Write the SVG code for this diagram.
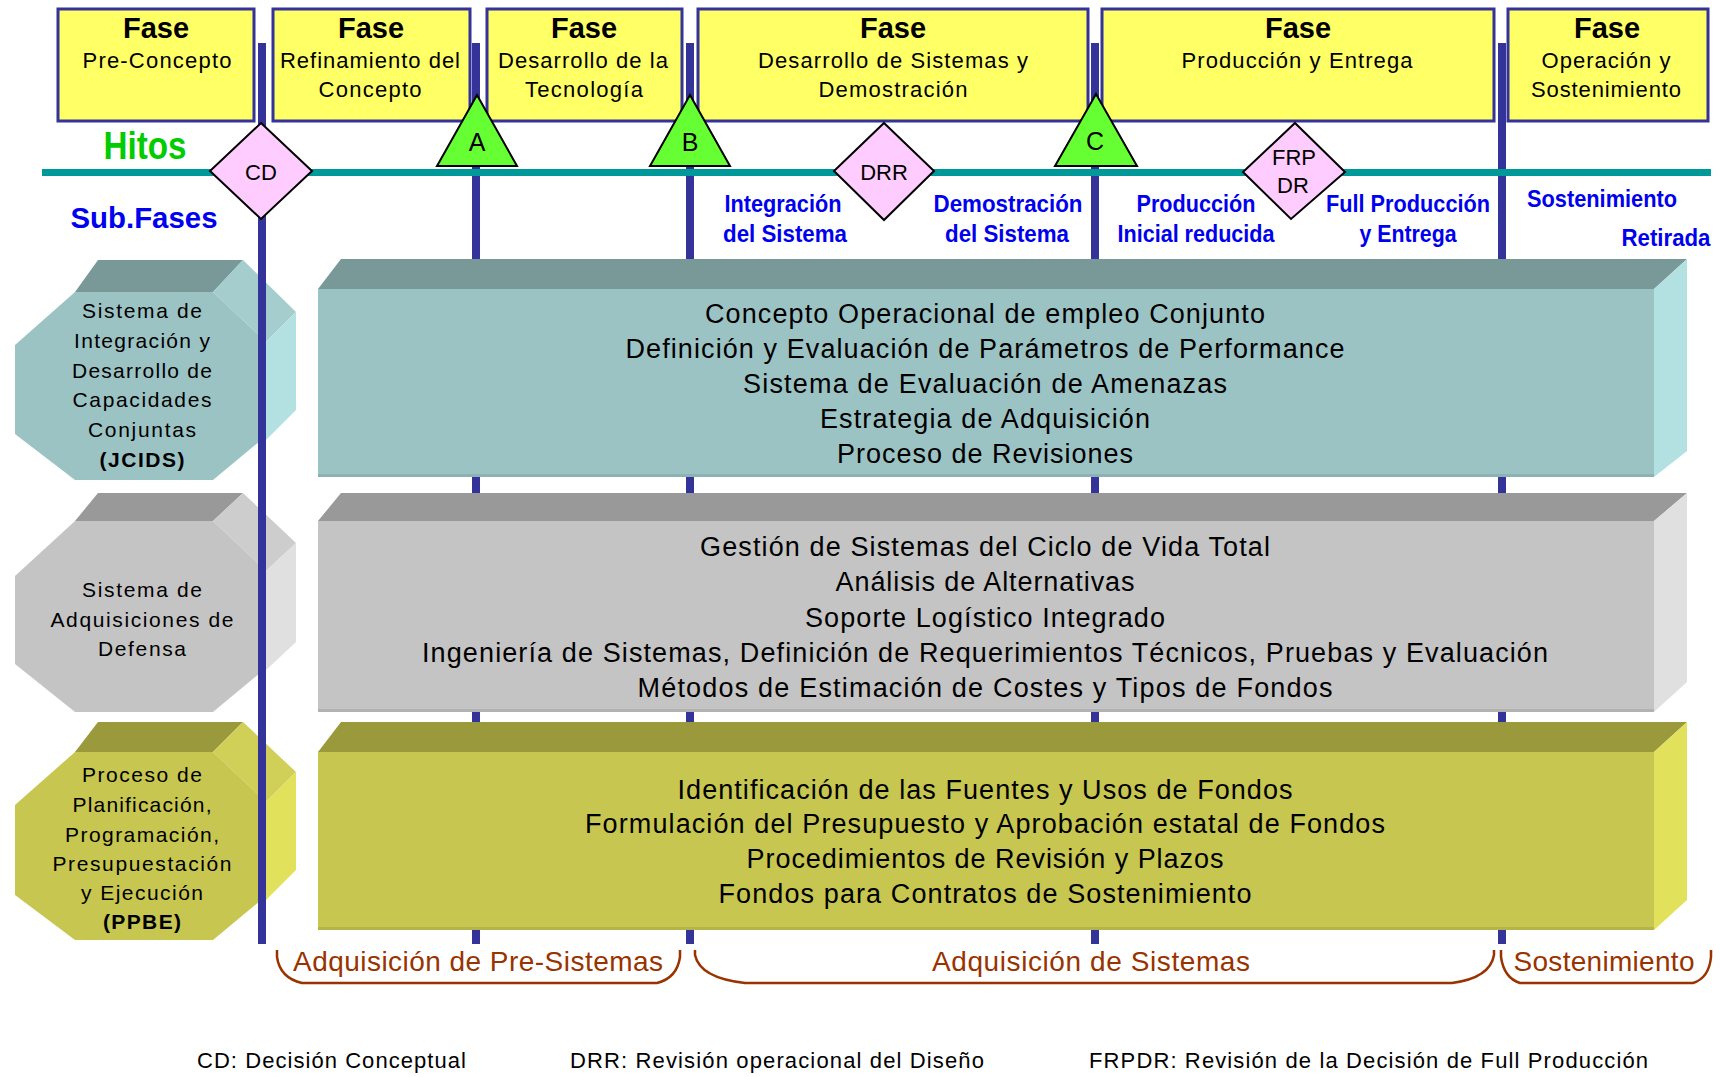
<svg xmlns="http://www.w3.org/2000/svg" width="1720" height="1077" viewBox="0 0 1720 1077">
  <defs>
    <style>
      text { font-family: "Liberation Sans", Arial, sans-serif; fill: #000; }
      .ph-box { fill: #FFFF66; stroke: #333399; stroke-width: 3; }
      .ph-title { font-size: 29px; font-weight: bold; text-anchor: middle; }
      .ph-sub { font-size: 22px; text-anchor: middle; }
      .vline { stroke: #333399; stroke-width: 8; }
      .axis { stroke: #009999; stroke-width: 7; }
      .tri { fill: #66FF33; stroke: #000; stroke-width: 2; stroke-linejoin: miter; }
      .dia { fill: #FFCCFF; stroke: #000; stroke-width: 2; }
      .ms { font-size: 22px; text-anchor: middle; }
      .ms-l { font-size: 25px; text-anchor: middle; }
      .row-hitos { font-size: 38px; font-weight: bold; fill: #00CC00; text-anchor: middle; }
      .row-sub { font-size: 30px; font-weight: bold; fill: #0000F0; text-anchor: middle; }
      .sub { font-size: 24px; font-weight: bold; fill: #0000F0; text-anchor: middle; }
      .slab { font-size: 27px; text-anchor: middle; }
      .oct { font-size: 21px; text-anchor: middle; }
      .octb { font-size: 21px; font-weight: bold; text-anchor: middle; }
      .brace { fill: none; stroke: #993300; stroke-width: 2.5; }
      .brace-t { font-size: 28px; fill: #993300; text-anchor: middle; }
      .legend { font-size: 22px; }
    </style>
  </defs>

  <rect width="1720" height="1077" fill="#FFFFFF"/>

  <!-- Process octagons (left column) -->
  <g id="oct-jcids">
    <polygon points="75,292 98,260 243,260 213,292" fill="#799998"/>
    <polygon points="213,292 243,260 296,312 266,342" fill="#A6CDCE"/>
    <polygon points="266,342 296,312 296,410 266,440" fill="#B3E0E1"/>
    <polygon points="75,292 213,292 266,342 266,436 213,480 75,480 15,434 15,345" fill="#9CC3C4"/>
    <text class="oct" x="142" y="318" textLength="120">Sistema de</text>
    <text class="oct" x="142" y="348" textLength="136">Integración y</text>
    <text class="oct" x="142" y="378" textLength="140">Desarrollo de</text>
    <text class="oct" x="142" y="407" textLength="139">Capacidades</text>
    <text class="oct" x="142" y="437" textLength="108">Conjuntas</text>
    <text class="octb" x="142" y="467" textLength="85">(JCIDS)</text>
  </g>
  <g id="oct-defensa">
    <polygon points="75,521 98,493 243,493 213,521" fill="#999999"/>
    <polygon points="213,521 243,493 296,543 266,571" fill="#CDCDCD"/>
    <polygon points="266,571 296,543 296,642 266,670" fill="#E0E0E0"/>
    <polygon points="75,521 213,521 266,571 266,668 213,712 75,712 15,664 15,576" fill="#C4C4C4"/>
    <text class="oct" x="142" y="597" textLength="120">Sistema de</text>
    <text class="oct" x="142" y="627" textLength="183">Adquisiciones de</text>
    <text class="oct" x="142" y="656" textLength="88">Defensa</text>
  </g>
  <g id="oct-ppbe">
    <polygon points="75,752 98,722 243,722 213,752" fill="#9A9A3C"/>
    <polygon points="213,752 243,722 296,772 266,802" fill="#D0D058"/>
    <polygon points="266,802 296,772 296,870 266,900" fill="#E1E15B"/>
    <polygon points="75,752 213,752 266,802 266,896 213,940 75,940 15,895 15,805" fill="#C6C650"/>
    <text class="oct" x="142" y="782" textLength="120">Proceso de</text>
    <text class="oct" x="142" y="812" textLength="139">Planificación,</text>
    <text class="oct" x="142" y="842" textLength="154">Programación,</text>
    <text class="oct" x="142" y="871" textLength="179">Presupuestación</text>
    <text class="oct" x="142" y="900" textLength="122">y Ejecución</text>
    <text class="octb" x="142" y="929" textLength="78">(PPBE)</text>
  </g>

  <!-- Connectors: milestone verticals, time axis and brackets -->
  <g id="connectors">
    <line class="vline" x1="262" y1="43" x2="262" y2="944"/>
    <line class="vline" x1="476" y1="43" x2="476" y2="944"/>
    <line class="vline" x1="690" y1="43" x2="690" y2="944"/>
    <line class="vline" x1="1095" y1="43" x2="1095" y2="944"/>
    <line class="vline" x1="1502" y1="43" x2="1502" y2="944"/>
    <line class="axis" x1="42" y1="172.5" x2="1711" y2="172.5"/>
    <path class="brace" d="M277,950 L277,957 Q280,978 302,983 L657,983 Q677,978 680,957 L680,950"/>
    <path class="brace" d="M695,950 L695,955 Q700,978 745,983 L1452,983 Q1490,978 1494,955 L1494,950"/>
    <path class="brace" d="M1501,950 L1501,957 Q1504,978 1520,983 L1693,983 Q1709,978 1711,957 L1711,950"/>
  </g>

  <!-- Process slabs -->
  <g id="slab-jcids">
    <polygon points="318,289 341,259 1687,259 1654,289" fill="#799998"/>
    <polygon points="1654,289 1687,259 1687,451 1654,477" fill="#B3E0E1"/>
    <rect x="318" y="289" width="1336" height="188" fill="#9CC3C4"/>
    <rect x="318" y="474" width="1336" height="3" fill="#8DB2B3"/>
    <text class="slab" x="985" y="323" textLength="560">Concepto Operacional de empleo Conjunto</text>
    <text class="slab" x="985" y="358" textLength="719">Definición y Evaluación de Parámetros de Performance</text>
    <text class="slab" x="985" y="393" textLength="484">Sistema de Evaluación de Amenazas</text>
    <text class="slab" x="985" y="428" textLength="330">Estrategia de Adquisición</text>
    <text class="slab" x="985" y="463" textLength="296">Proceso de Revisiones</text>
  </g>
  <g id="slab-defensa">
    <polygon points="318,521 341,493 1687,493 1654,521" fill="#999999"/>
    <polygon points="1654,521 1687,493 1687,682 1654,712" fill="#E0E0E0"/>
    <rect x="318" y="521" width="1336" height="191" fill="#C4C4C4"/>
    <rect x="318" y="709" width="1336" height="3" fill="#B2B2B2"/>
    <text class="slab" x="985" y="556" textLength="570">Gestión de Sistemas del Ciclo de Vida Total</text>
    <text class="slab" x="985" y="591" textLength="299">Análisis de Alternativas</text>
    <text class="slab" x="985" y="627" textLength="360">Soporte Logístico Integrado</text>
    <text class="slab" x="985" y="662" textLength="1126">Ingeniería de Sistemas, Definición de Requerimientos Técnicos, Pruebas y Evaluación</text>
    <text class="slab" x="985" y="697" textLength="695">Métodos de Estimación de Costes y Tipos de Fondos</text>
  </g>
  <g id="slab-ppbe">
    <polygon points="318,752 341,722 1687,722 1654,752" fill="#9A9A3C"/>
    <polygon points="1654,752 1687,722 1687,900 1654,930" fill="#E1E15B"/>
    <rect x="318" y="752" width="1336" height="178" fill="#C6C650"/>
    <rect x="318" y="927" width="1336" height="3" fill="#B4B448"/>
    <text class="slab" x="985" y="799" textLength="615">Identificación de las Fuentes y Usos de Fondos</text>
    <text class="slab" x="985" y="833" textLength="800">Formulación del Presupuesto y Aprobación estatal de Fondos</text>
    <text class="slab" x="985" y="868" textLength="477">Procedimientos de Revisión y Plazos</text>
    <text class="slab" x="985" y="903" textLength="533">Fondos para Contratos de Sostenimiento</text>
  </g>

  <!-- Phase headers -->
  <g id="fase-preconcepto">
    <rect class="ph-box" x="58" y="9" width="196" height="112"/>
    <text class="ph-title" x="156" y="38">Fase</text>
    <text class="ph-sub" x="157" y="68" textLength="149">Pre-Concepto</text>
  </g>
  <g id="fase-refinamiento">
    <rect class="ph-box" x="273" y="9" width="197" height="112"/>
    <text class="ph-title" x="371" y="38">Fase</text>
    <text class="ph-sub" x="370" y="68" textLength="180">Refinamiento del</text>
    <text class="ph-sub" x="370" y="97" textLength="103">Concepto</text>
  </g>
  <g id="fase-tecnologia">
    <rect class="ph-box" x="487" y="9" width="195" height="112"/>
    <text class="ph-title" x="584" y="38">Fase</text>
    <text class="ph-sub" x="583" y="68" textLength="170">Desarrollo de la</text>
    <text class="ph-sub" x="584" y="97" textLength="118">Tecnología</text>
  </g>
  <g id="fase-sistemas">
    <rect class="ph-box" x="698" y="9" width="390" height="112"/>
    <text class="ph-title" x="893" y="38">Fase</text>
    <text class="ph-sub" x="893" y="68" textLength="270">Desarrollo de Sistemas y</text>
    <text class="ph-sub" x="893" y="97" textLength="149">Demostración</text>
  </g>
  <g id="fase-produccion">
    <rect class="ph-box" x="1102" y="9" width="392" height="112"/>
    <text class="ph-title" x="1298" y="38">Fase</text>
    <text class="ph-sub" x="1297" y="68" textLength="231">Producción y Entrega</text>
  </g>
  <g id="fase-operacion">
    <rect class="ph-box" x="1508" y="9" width="200" height="112"/>
    <text class="ph-title" x="1607" y="38">Fase</text>
    <text class="ph-sub" x="1606" y="68" textLength="129">Operación y</text>
    <text class="ph-sub" x="1606" y="97" textLength="150">Sostenimiento</text>
  </g>

  <!-- Milestones -->
  <g id="hito-cd">
    <polygon class="dia" points="261,123 312,171 261,219 210,171"/>
    <text class="ms" x="261" y="180">CD</text>
  </g>
  <g id="hito-a">
    <polygon class="tri" points="477,95 517,166 437,166"/>
    <text class="ms-l" x="477" y="151">A</text>
  </g>
  <g id="hito-b">
    <polygon class="tri" points="690,95 730,166 650,166"/>
    <text class="ms-l" x="690" y="151">B</text>
  </g>
  <g id="hito-drr">
    <polygon class="dia" points="884,123 934,171 884,220 834,171"/>
    <text class="ms" x="884" y="180">DRR</text>
  </g>
  <g id="hito-c">
    <polygon class="tri" points="1096,94 1137,166 1055,166"/>
    <text class="ms-l" x="1095" y="150">C</text>
  </g>
  <g id="hito-frpdr">
    <polygon class="dia" points="1295,123 1345,172 1291,219 1243,172"/>
    <text class="ms" x="1294" y="165">FRP</text>
    <text class="ms" x="1293" y="193">DR</text>
  </g>

  <!-- Row labels -->
  <text class="row-hitos" x="145" y="159" textLength="83" lengthAdjust="spacingAndGlyphs">Hitos</text>
  <text class="row-sub" x="144" y="228" textLength="147" lengthAdjust="spacingAndGlyphs">Sub.Fases</text>

  <!-- Sub-phase labels -->
  <g id="subfases">
    <text class="sub" x="783" y="212" textLength="117" lengthAdjust="spacingAndGlyphs">Integración</text>
    <text class="sub" x="785" y="242" textLength="124" lengthAdjust="spacingAndGlyphs">del Sistema</text>
    <text class="sub" x="1008" y="212" textLength="149" lengthAdjust="spacingAndGlyphs">Demostración</text>
    <text class="sub" x="1007" y="242" textLength="124" lengthAdjust="spacingAndGlyphs">del Sistema</text>
    <text class="sub" x="1196" y="212" textLength="119" lengthAdjust="spacingAndGlyphs">Producción</text>
    <text class="sub" x="1196" y="242" textLength="157" lengthAdjust="spacingAndGlyphs">Inicial reducida</text>
    <text class="sub" x="1408" y="212" textLength="164" lengthAdjust="spacingAndGlyphs">Full Producción</text>
    <text class="sub" x="1408" y="242" textLength="97" lengthAdjust="spacingAndGlyphs">y Entrega</text>
    <text class="sub" x="1602" y="207" textLength="150" lengthAdjust="spacingAndGlyphs">Sostenimiento</text>
    <text class="sub" x="1666" y="246" textLength="89" lengthAdjust="spacingAndGlyphs">Retirada</text>
  </g>

  <!-- Bracket labels -->
  <text class="brace-t" x="478" y="971" textLength="370">Adquisición de Pre-Sistemas</text>
  <text class="brace-t" x="1091" y="971" textLength="318">Adquisición de Sistemas</text>
  <text class="brace-t" x="1604" y="971" textLength="181">Sostenimiento</text>

  <!-- Legend -->
  <text class="legend" x="197" y="1068" textLength="269">CD: Decisión Conceptual</text>
  <text class="legend" x="570" y="1068" textLength="414">DRR: Revisión operacional del Diseño</text>
  <text class="legend" x="1089" y="1068" textLength="559">FRPDR: Revisión de la Decisión de Full Producción</text>
</svg>
